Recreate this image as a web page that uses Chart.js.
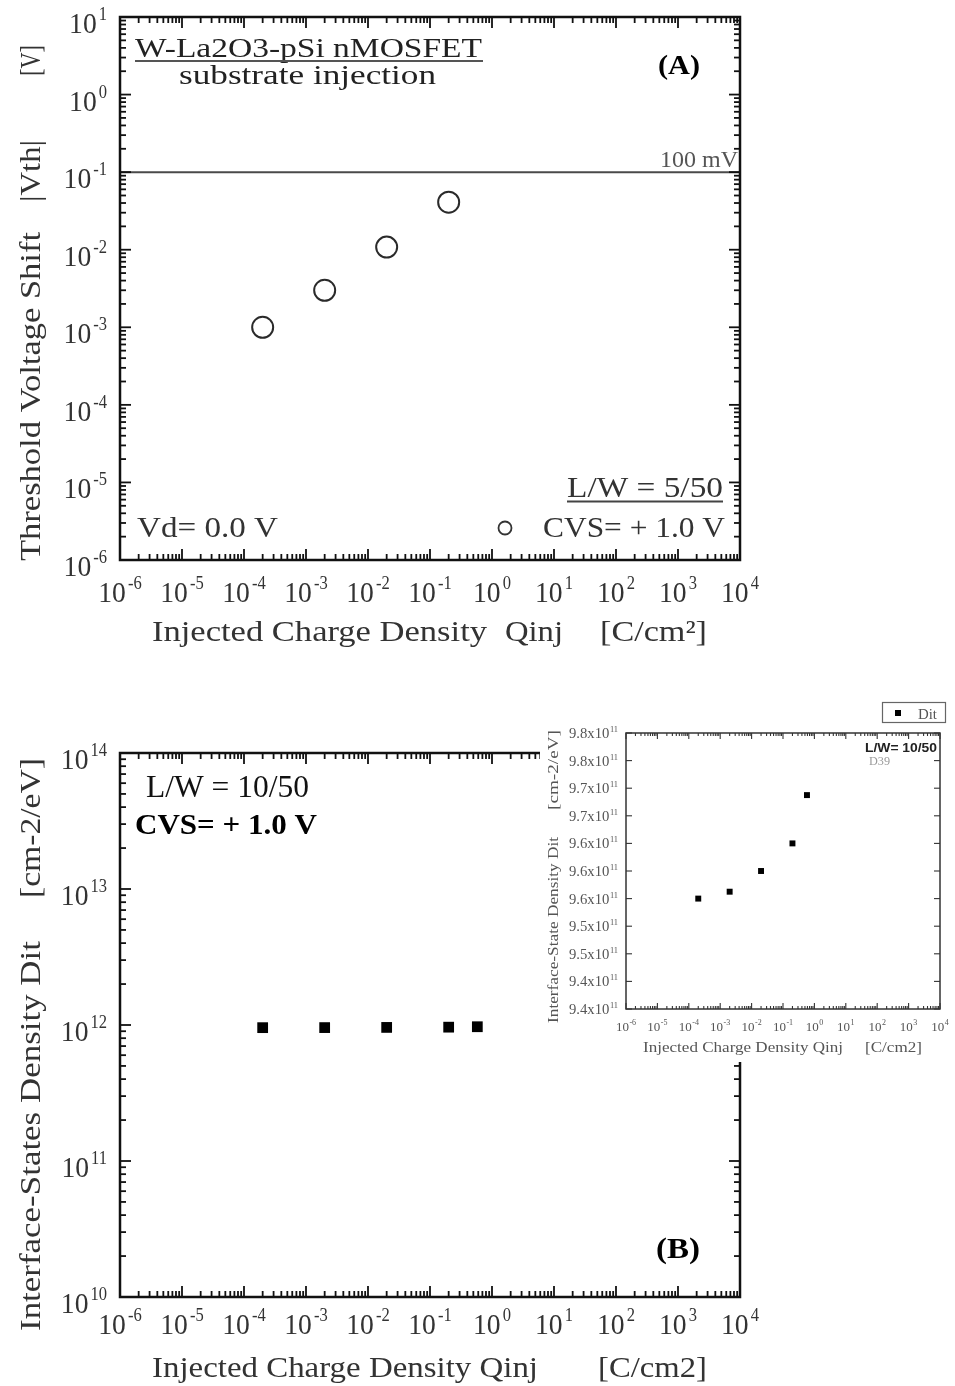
<!DOCTYPE html>
<html>
<head>
<meta charset="utf-8">
<script src="https://cdn.jsdelivr.net/npm/chart.js@4.4.1/dist/chart.umd.min.js"></script>
<style>
  html, body { margin: 0; padding: 0; background: #fff; }
  body { position: relative; width: 955px; height: 1386px; overflow: hidden; }
  canvas { position: absolute; }
  #panelA { left: 0; top: 0; }
  #panelB { left: 0; top: 680px; }
  #inset  { left: 540px; top: 700px; background: #fff; }
</style>
</head>
<body>
<canvas id="panelA" width="955" height="665"></canvas>
<canvas id="panelB" width="955" height="706"></canvas>
<canvas id="inset" width="415" height="362"></canvas>
<script>
// ---- measured data ----
// (A) threshold-voltage shift vs injected charge, CVS = +1.0 V, L/W = 5/50
const qinjA = [2e-4, 2e-3, 2e-2, 2e-1];            // C/cm2
const vthShift = [1.0e-3, 3.0e-3, 1.08e-2, 4.1e-2]; // V
const vthLimit = 0.1;                                // 100 mV criterion

// (B) interface-state density vs injected charge, CVS = +1.0 V, L/W = 10/50
const qinjB = [2e-4, 2e-3, 2e-2, 2e-1, 0.58];       // C/cm2
const dit = [9.56e11, 9.57e11, 9.60e11, 9.64e11, 9.71e11]; // cm-2/eV

// axis ranges
const qinjRange = [1e-6, 1e4];
const vthRange = [1e-6, 1e1];
const ditRange = [1e10, 1e14];
const insetDitRange = [9.40e11, 9.80e11];
const insetDitStep = 0.04e11;

const SERIF = '"Liberation Serif", "Times New Roman", serif';
const SANS = '"Liberation Sans", Arial, sans-serif';
const INK = '#2b2b2b';

// ---- drawing helpers ----
function drawText(ctx, str, x, y, o) {
  ctx.save();
  ctx.font = `${o.weight || 'normal'} ${o.size}px ${o.family || SERIF}`;
  ctx.fillStyle = o.color || INK;
  ctx.textBaseline = 'alphabetic';
  ctx.textAlign = 'left';
  const natural = ctx.measureText(str).width;
  const sx = o.width ? o.width / natural : 1;
  const w = natural * sx;
  ctx.translate(x, y);
  if (o.rotate) ctx.rotate(-Math.PI / 2);
  let start = 0;
  if (o.align === 'center') start = -w / 2;
  else if (o.align === 'right') start = -w;
  ctx.translate(start, 0);
  ctx.scale(sx, 1);
  ctx.fillText(str, 0, 0);
  ctx.restore();
  return w;
}

function powLabel(ctx, mant, exp, x, y, o) {
  ctx.save();
  ctx.fillStyle = o.color;
  ctx.textBaseline = 'alphabetic';
  ctx.textAlign = 'left';
  const fb = `${o.size}px ${SERIF}`;
  const fe = `${o.expSize}px ${SERIF}`;
  const sx = o.sx || 1;
  ctx.font = fb; const wb = ctx.measureText(mant).width * sx;
  ctx.font = fe; const we = ctx.measureText(exp).width * sx;
  const total = wb + o.gap + we;
  const x0 = o.align === 'center' ? x - total / 2 : o.align === 'right' ? x - total : x;
  ctx.save(); ctx.translate(x0, y); ctx.scale(sx, 1); ctx.font = fb; ctx.fillText(mant, 0, 0); ctx.restore();
  ctx.save(); ctx.translate(x0 + wb + o.gap, y - o.raise); ctx.scale(sx, 1); ctx.font = fe; ctx.fillText(exp, 0, 0); ctx.restore();
  ctx.restore();
}

function logTicks(min, max) {
  const out = [];
  const e0 = Math.floor(Math.log10(min) + 1e-9), e1 = Math.ceil(Math.log10(max) - 1e-9);
  for (let e = e0; e <= e1; e++) {
    for (let m = 1; m <= 9; m++) {
      const v = m * Math.pow(10, e);
      if (v >= min * 0.999999 && v <= max * 1.000001) out.push({ v, major: m === 1, e });
    }
  }
  return out;
}

function line(ctx, x1, y1, x2, y2) {
  ctx.beginPath(); ctx.moveTo(x1, y1); ctx.lineTo(x2, y2); ctx.stroke();
}

// box frame with inward ticks on all four sides, plus power-of-ten tick labels
function drawFrame(chart, cfg) {
  const { ctx, chartArea: a, scales: { x, y } } = chart;
  ctx.save();
  ctx.strokeStyle = cfg.ink;
  ctx.lineWidth = cfg.tickWidth;
  for (const t of logTicks(x.min, x.max)) {
    const px = x.getPixelForValue(t.v);
    const len = t.major ? cfg.major : cfg.minor;
    line(ctx, px, a.bottom, px, a.bottom - len);
    line(ctx, px, a.top, px, a.top + len);
  }
  const yTicks = cfg.yLinear
    ? Array.from({ length: Math.round((y.max - y.min) / cfg.yStep) + 1 }, (_, i) => ({ v: y.min + i * cfg.yStep, major: true }))
    : logTicks(y.min, y.max);
  for (const t of yTicks) {
    const py = y.getPixelForValue(t.v);
    const len = t.major ? cfg.major : cfg.minor;
    line(ctx, a.left, py, a.left + len, py);
    line(ctx, a.right, py, a.right - len, py);
  }
  ctx.lineWidth = cfg.frameWidth;
  ctx.strokeRect(a.left, a.top, a.right - a.left, a.bottom - a.top);

  // x tick labels
  for (const t of logTicks(x.min, x.max)) {
    if (!t.major) continue;
    powLabel(ctx, '10', String(t.e), x.getPixelForValue(t.v), a.bottom + cfg.xLabelDy, cfg.xLabel);
  }
  // y tick labels
  for (const t of yTicks) {
    if (!t.major) continue;
    const py = y.getPixelForValue(t.v);
    if (cfg.yLinear) {
      const mant = (t.v / 1e11).toFixed(1) + 'x10';
      powLabel(ctx, mant, '11', a.left + cfg.yLabelDx, py + cfg.yLabelDy, cfg.yLabel);
    } else {
      powLabel(ctx, '10', String(Math.round(Math.log10(t.v))), a.left + cfg.yLabelDx, py + cfg.yLabelDy, cfg.yLabel);
    }
  }
  ctx.restore();
}

function baseOptions(pad, xr, yr, yType) {
  return {
    responsive: false,
    animation: false,
    events: [],
    layout: { padding: pad },
    plugins: { legend: { display: false }, tooltip: { enabled: false } },
    scales: {
      x: { type: 'logarithmic', min: xr[0], max: xr[1], display: false },
      y: { type: yType, min: yr[0], max: yr[1], display: false }
    }
  };
}

const mainFrame = {
  ink: '#111', tickWidth: 1.8, frameWidth: 2.5, major: 11, minor: 6,
  xLabelDy: 42, yLabelDx: -13, yLabelDy: 16,
  xLabel: { size: 30, expSize: 18, gap: 2, raise: 13, align: 'center', color: '#333', sx: 0.92 },
  yLabel: { size: 30, expSize: 18, gap: 2, raise: 13, align: 'right', color: '#333', sx: 0.92 }
};

// ---- panel (A) ----
const offA = { x: 0, y: 0 };
new Chart(document.getElementById('panelA'), {
  type: 'scatter',
  data: {
    datasets: [
      {
        data: qinjA.map((q, i) => ({ x: q, y: vthShift[i] })),
        pointStyle: 'circle', pointRadius: 10.5, borderWidth: 2,
        borderColor: '#2a2a2a', backgroundColor: 'rgba(255,255,255,0)'
      },
      {
        type: 'line',
        data: [{ x: qinjRange[0], y: vthLimit }, { x: qinjRange[1], y: vthLimit }],
        borderColor: '#4a4a4a', borderWidth: 2, pointRadius: 0, fill: false
      }
    ]
  },
  options: baseOptions({ left: 120, top: 17, right: 215, bottom: 105 }, qinjRange, vthRange, 'logarithmic'),
  plugins: [{
    id: 'panelAText',
    afterDraw(chart) {
      const ctx = chart.ctx;
      drawFrame(chart, mainFrame);
      ctx.save();
      ctx.translate(-offA.x, -offA.y);
      const yLim = chart.scales.y.getPixelForValue(vthLimit);
      drawText(ctx, '100 mV', 738, yLim - 5, { size: 24, width: 78, align: 'right', color: '#555' });

      drawText(ctx, 'W-La2O3-pSi nMOSFET', 135, 57, { size: 28, width: 347, color: '#222' });
      ctx.strokeStyle = '#555'; ctx.lineWidth = 2;
      line(ctx, 135, 61, 483, 61);
      drawText(ctx, 'substrate injection', 179, 84, { size: 28, width: 257, color: '#222' });
      drawText(ctx, '(A)', 658, 74, { size: 28, weight: 'bold', width: 42, color: '#000' });

      drawText(ctx, 'L/W = 5/50', 567, 497, { size: 30, width: 156, color: '#333' });
      ctx.strokeStyle = '#444'; ctx.lineWidth = 2;
      line(ctx, 567, 501.5, 723, 501.5);
      ctx.beginPath(); ctx.arc(505, 528, 6.5, 0, Math.PI * 2); ctx.lineWidth = 1.8; ctx.strokeStyle = '#333'; ctx.stroke();
      drawText(ctx, 'CVS= + 1.0 V', 543, 537, { size: 30, width: 182, color: '#333' });
      drawText(ctx, 'Vd= 0.0 V', 137, 537, { size: 30, width: 141, color: '#333' });

      drawText(ctx, 'Injected Charge Density', 152, 641, { size: 30, width: 335, color: '#333' });
      drawText(ctx, 'Qinj', 505, 641, { size: 30, width: 58, color: '#333' });
      drawText(ctx, '[C/cm²]', 600, 641, { size: 30, width: 107, color: '#333' });

      drawText(ctx, 'Threshold Voltage Shift', 40, 561, { size: 30, width: 329, rotate: true, color: '#333' });
      drawText(ctx, '|Vth|', 40, 202, { size: 30, width: 62, rotate: true, color: '#333' });
      drawText(ctx, '[V]', 40, 76, { size: 30, width: 31, rotate: true, color: '#333' });
      ctx.restore();
    }
  }]
});

// ---- panel (B) ----
const offB = { x: 0, y: 680 };
new Chart(document.getElementById('panelB'), {
  type: 'scatter',
  data: {
    datasets: [{
      data: qinjB.map((q, i) => ({ x: q, y: dit[i] })),
      pointStyle: 'rect', pointRadius: 7.6, borderWidth: 0,
      backgroundColor: '#000', borderColor: '#000'
    }]
  },
  options: baseOptions({ left: 120, top: 73, right: 215, bottom: 89 }, qinjRange, ditRange, 'logarithmic'),
  plugins: [{
    id: 'panelBText',
    afterDraw(chart) {
      const ctx = chart.ctx;
      drawFrame(chart, Object.assign({}, mainFrame, { xLabelDy: 37 }));
      ctx.save();
      ctx.translate(-offB.x, -offB.y);
      drawText(ctx, 'L/W = 10/50', 146, 797, { size: 31, width: 163, color: '#111' });
      drawText(ctx, 'CVS= + 1.0 V', 135, 834, { size: 29, weight: 'bold', width: 182, color: '#000' });
      drawText(ctx, '(B)', 656, 1258, { size: 29, weight: 'bold', width: 44, color: '#000' });

      drawText(ctx, 'Injected Charge Density Qinj', 152, 1377, { size: 30, width: 386, color: '#333' });
      drawText(ctx, '[C/cm2]', 598, 1377, { size: 30, width: 109, color: '#333' });

      drawText(ctx, 'Interface-States Density Dit', 40, 1331, { size: 30, width: 390, rotate: true, color: '#333' });
      drawText(ctx, '[cm-2/eV]', 40, 898, { size: 30, width: 140, rotate: true, color: '#333' });
      ctx.restore();
    }
  }]
});

// ---- inset: Dit on a linear scale ----
const offI = { x: 540, y: 700 };
const insetFrame = {
  ink: '#333', tickWidth: 1.1, frameWidth: 1.5, major: 6, minor: 3,
  yLinear: true, yStep: insetDitStep,
  xLabelDy: 22, yLabelDx: -8, yLabelDy: 5,
  xLabel: { size: 13, expSize: 8, gap: 0.5, raise: 6, align: 'center', color: '#555', sx: 1 },
  yLabel: { size: 14, expSize: 8, gap: 0.5, raise: 6, align: 'right', color: '#555', sx: 1.05 }
};
new Chart(document.getElementById('inset'), {
  type: 'scatter',
  data: {
    datasets: [{
      data: qinjB.map((q, i) => ({ x: q, y: dit[i] })),
      pointStyle: 'rect', pointRadius: 4.2, borderWidth: 0,
      backgroundColor: '#000', borderColor: '#000'
    }]
  },
  options: baseOptions({ left: 86, top: 33, right: 15, bottom: 53 }, qinjRange, insetDitRange, 'linear'),
  plugins: [{
    id: 'insetText',
    afterDraw(chart) {
      const ctx = chart.ctx;
      drawFrame(chart, insetFrame);
      ctx.save();
      ctx.translate(-offI.x, -offI.y);
      // legend box
      ctx.strokeStyle = '#666'; ctx.lineWidth = 1.2;
      ctx.strokeRect(882.5, 702.5, 63, 20);
      ctx.fillStyle = '#000';
      ctx.fillRect(895, 710, 6, 6);
      drawText(ctx, 'Dit', 918, 719, { size: 14, width: 19, color: '#555' });

      drawText(ctx, 'L/W= 10/50', 865, 752, { size: 12, weight: 'bold', family: SANS, width: 72, color: '#222' });
      drawText(ctx, 'D39', 869, 765, { size: 12, width: 21, color: '#999' });

      drawText(ctx, 'Injected Charge Density Qinj', 643, 1052, { size: 14, width: 200, color: '#555' });
      drawText(ctx, '[C/cm2]', 865, 1052, { size: 14, width: 57, color: '#555' });
      drawText(ctx, 'Interface-State Density Dit', 558, 1023, { size: 14, width: 186, rotate: true, color: '#555' });
      drawText(ctx, '[cm-2/eV]', 558, 810, { size: 14, width: 80, rotate: true, color: '#555' });
      ctx.restore();
    }
  }]
});
</script>
</body>
</html>
